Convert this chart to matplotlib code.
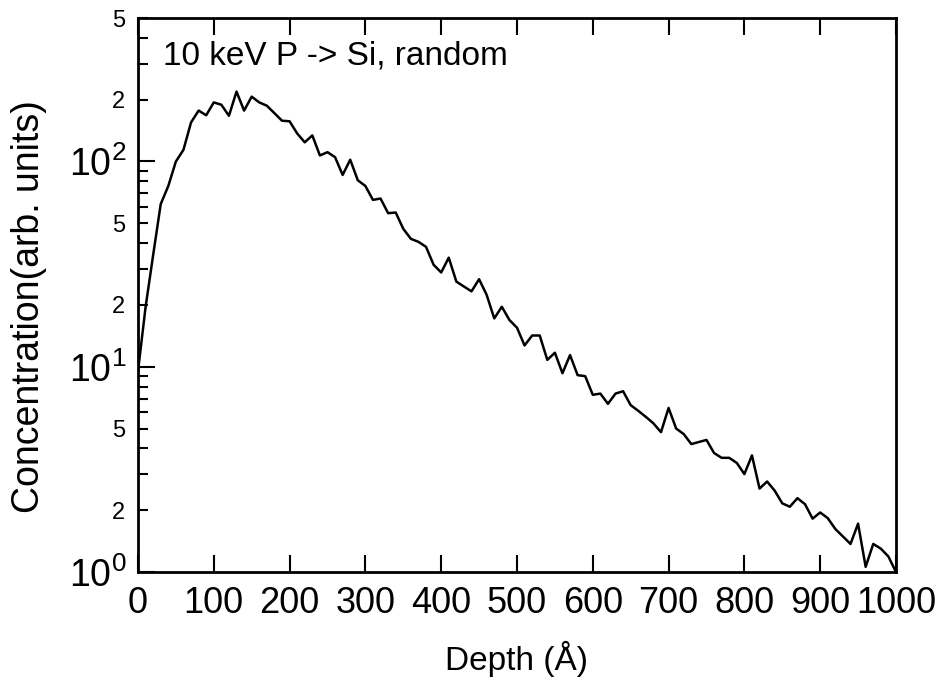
import numpy as np
import matplotlib
matplotlib.use("Agg")
import matplotlib.pyplot as plt
from matplotlib.ticker import FixedLocator, FuncFormatter

# Profundidad (Angstrom), un punto cada 10 A
depth = np.arange(0, 1010, 10)

# Concentracion (unidades arbitrarias)
concentration = [
    9.5, 19.5, 35, 62, 76, 100, 114, 155, 177, 168,
    194, 189, 167, 219, 177, 207, 194, 187, 172, 158,
    157, 137, 124, 134, 107, 111, 105, 86, 102, 81,
    76, 65, 66, 56, 56.4, 47, 42, 40.6, 38.4, 31.4,
    28.8, 34, 26, 24.6, 23.3, 26.7, 22.4, 17.2, 19.6, 16.9,
    15.5, 12.7, 14.2, 14.2, 10.8, 11.7, 9.3, 11.4, 9.1, 9.0,
    7.3, 7.4, 6.6, 7.4, 7.6, 6.5, 6.1, 5.7, 5.3, 4.8,
    6.3, 5.0, 4.7, 4.2, 4.3, 4.4, 3.8, 3.6, 3.6, 3.4,
    3.0, 3.7, 2.55, 2.76, 2.49, 2.16, 2.08, 2.29, 2.14, 1.82,
    1.95, 1.83, 1.62, 1.49, 1.37, 1.72, 1.06, 1.37, 1.30, 1.19,
    1.0,
]

x_ticks = [0, 100, 200, 300, 400, 500, 600, 700, 800, 900, 1000]
y_major = [1, 10, 100]
y_minor = [m * d for d in (1, 10, 100) for m in range(2, 10)]
y_minor_labelled = [2, 5, 20, 50, 200, 500]

title_text = "10 keV P -> Si, random"

plt.rcParams["font.family"] = ["Liberation Sans", "DejaVu Sans"]
plt.rcParams["mathtext.fontset"] = "custom"
plt.rcParams["mathtext.rm"] = "Liberation Sans"
plt.rcParams["mathtext.it"] = "Liberation Sans"


def minor_label(v, pos):
    # solo se etiquetan 2 y 5 de cada decada
    for m in y_minor_labelled:
        if abs(v - m) < 1e-6 * m:
            return str(int(round(v / 10 ** np.floor(np.log10(v)))))
    return ""


def main():
    fig = plt.figure(figsize=(9.38, 6.8), dpi=100)
    ax = fig.add_axes([0.1471, 0.1588, 0.8081, 0.8147])

    ax.plot(depth, concentration, color="black", linewidth=1.8)

    ax.set_yscale("log")
    ax.set_xlim(0, 1000)
    ax.set_ylim(1, 500)

    ax.set_xticks(x_ticks)
    ax.set_xticklabels([str(t) for t in x_ticks])
    ax.yaxis.set_major_locator(FixedLocator(y_major))
    ax.yaxis.set_major_formatter(FuncFormatter(lambda v, p: "$10^{%d}$" % round(np.log10(v))))
    ax.yaxis.set_minor_locator(FixedLocator([v for v in y_minor if v <= 500]))
    ax.yaxis.set_minor_formatter(FuncFormatter(minor_label))

    ax.tick_params(axis="x", which="major", direction="in", length=12, width=1.5,
                   top=True, labelsize=26, pad=10)
    ax.tick_params(axis="y", which="major", direction="in", length=12, width=1.5,
                   right=False, labelsize=27, pad=8)
    ax.tick_params(axis="y", which="minor", direction="in", length=7, width=1.5,
                   right=False, labelsize=17, pad=9)
    for s in ax.spines.values():
        s.set_linewidth(2)

    ax.set_xlabel("Depth (Å)", fontsize=24, labelpad=14)
    ax.set_ylabel("Concentration(arb. units)", fontsize=27)
    ax.yaxis.set_label_coords(-0.12, 0.48)

    ax.text(0.033, 0.96, title_text, transform=ax.transAxes, fontsize=24,
            ha="left", va="top")

    fig.savefig("out.png", dpi=100)


if __name__ == "__main__":
    main()
